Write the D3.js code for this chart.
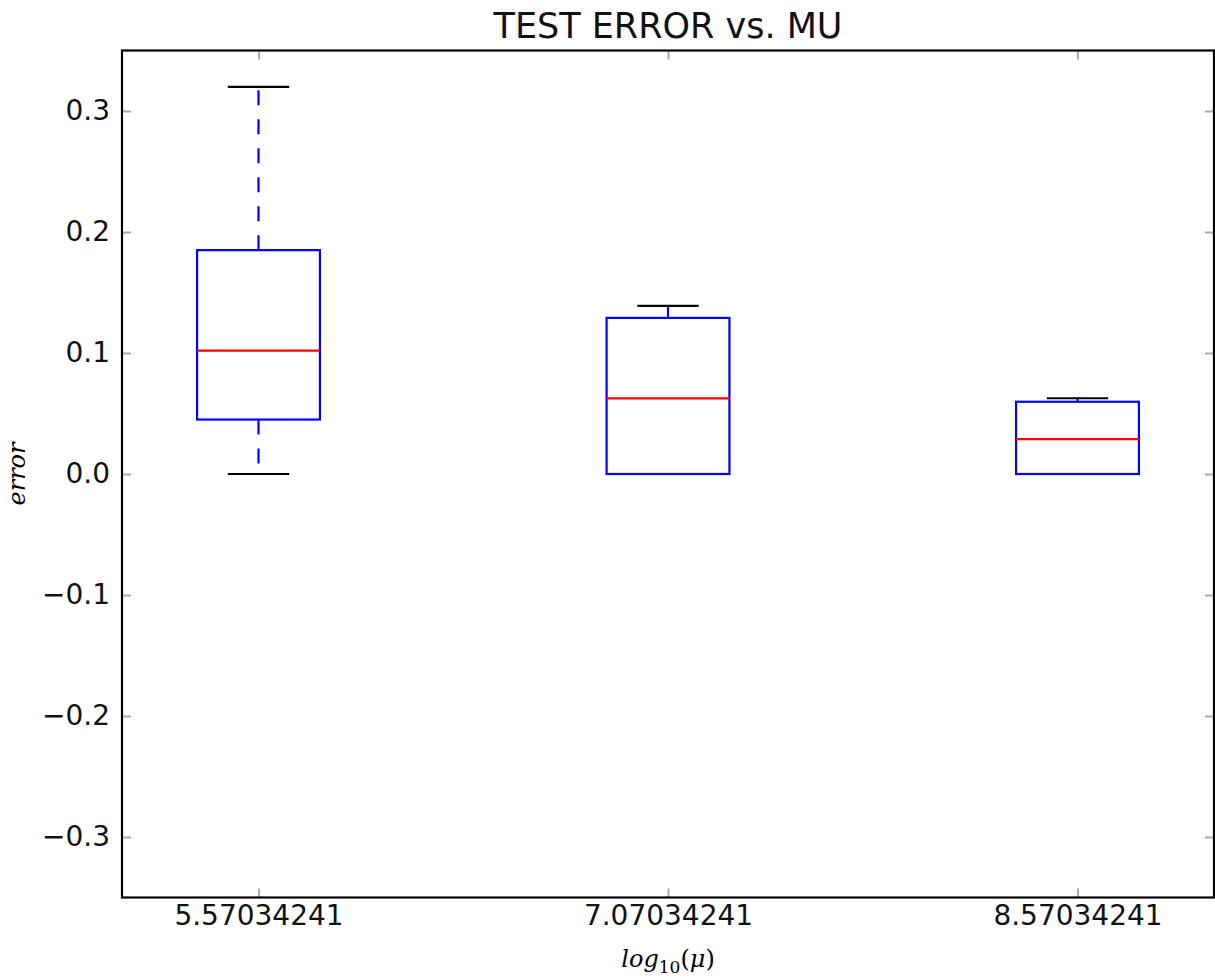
<!DOCTYPE html>
<meta charset="utf-8">
<title>TEST ERROR vs. MU</title>
<style>
  body { margin: 0; background: #fff; }
  svg { display: block; }
</style>
<div id="viz"></div>
<script src="https://cdnjs.cloudflare.com/ajax/libs/d3/7.8.5/d3.min.js"></script>
<script>

// data
var categories = ["5.57034241", "7.07034241", "8.57034241"];
var positions = [1, 2, 3];
var whiskerLow = [0.0, 0.0, 0.0];
var q1 = [0.045, 0.0, 0.0];
var median = [0.102, 0.0625, 0.0288];
var q3 = [0.185, 0.129, 0.0597];
var whiskerHigh = [0.32, 0.139, 0.0626];
var yTicks = [-0.3, -0.2, -0.1, 0.0, 0.1, 0.2, 0.3];

var width = 1215;
var height = 979;
// note: "top" is taken by window.top, so use plot* names
var plotLeft = 122, plotRight = 1214, plotTop = 50.5, plotBottom = 897.5;

var boxes = positions.map(function(p, i) {
  return { pos: p, lo: whiskerLow[i], q1: q1[i], med: median[i], q3: q3[i], hi: whiskerHigh[i] };
});

var svg = d3.select("#viz")
  .append("svg")
  .attr("width", width)
  .attr("height", height);

var x = d3.scaleLinear().domain([2 / 3, 10 / 3]).range([plotLeft, plotRight]);
var y = d3.scaleLinear().domain([-0.35, 0.35]).range([plotBottom, plotTop]);

var fmt = function(d) { return d3.format(".1f")(d).replace("-", "\u2212"); };
var tickColor = "#aaa";

// axes (ticks point inwards, on all four sides)
var yAxisL = svg.append("g")
  .attr("transform", "translate(" + plotLeft + ",0)")
  .call(d3.axisLeft(y).tickValues(yTicks).tickFormat(fmt).tickSizeInner(-9).tickSizeOuter(0).tickPadding(12));
var yAxisR = svg.append("g")
  .attr("transform", "translate(" + plotRight + ",0)")
  .call(d3.axisRight(y).tickValues(yTicks).tickFormat("").tickSizeInner(-9).tickSizeOuter(0));
var xAxisB = svg.append("g")
  .attr("transform", "translate(0," + plotBottom + ")")
  .call(d3.axisBottom(x).tickValues(positions).tickFormat(function(d, i) { return categories[i]; })
    .tickSizeInner(-9).tickSizeOuter(0).tickPadding(8));
var xAxisT = svg.append("g")
  .attr("transform", "translate(0," + plotTop + ")")
  .call(d3.axisTop(x).tickValues(positions).tickFormat("").tickSizeInner(-9).tickSizeOuter(0));

[yAxisL, yAxisR, xAxisB, xAxisT].forEach(function(g) {
  g.select(".domain").remove();
  g.selectAll(".tick line").attr("stroke", tickColor).attr("stroke-width", 2);
  g.selectAll(".tick text")
    .attr("fill", "#111")
    .style("font-family", "'DejaVu Sans', sans-serif")
    .style("font-size", "28px");
});

// boxes
var g = svg.append("g");
var bw = 0.3, cw = 0.15;

var box = g.selectAll(".box").data(boxes).enter().append("g").attr("class", "box");

// whiskers (dashed blue)
box.append("line")
  .attr("x1", function(d) { return x(d.pos); })
  .attr("x2", function(d) { return x(d.pos); })
  .attr("y1", function(d) { return y(d.q3); })
  .attr("y2", function(d) { return y(d.hi); })
  .attr("stroke", "#0000ff").attr("stroke-width", 2.2)
  .attr("stroke-dasharray", "15,14");
box.append("line")
  .attr("x1", function(d) { return x(d.pos); })
  .attr("x2", function(d) { return x(d.pos); })
  .attr("y1", function(d) { return y(d.q1); })
  .attr("y2", function(d) { return y(d.lo); })
  .attr("stroke", "#0000ff").attr("stroke-width", 2.2)
  .attr("stroke-dasharray", "15,14");

// caps
box.selectAll(".cap").data(function(d) { return [[d.pos, d.lo], [d.pos, d.hi]]; })
  .enter().append("line")
  .attr("x1", function(d) { return x(d[0] - cw / 2); })
  .attr("x2", function(d) { return x(d[0] + cw / 2); })
  .attr("y1", function(d) { return y(d[1]); })
  .attr("y2", function(d) { return y(d[1]); })
  .attr("stroke", "#000").attr("stroke-width", 2.2);

// box outline
box.append("rect")
  .attr("x", function(d) { return x(d.pos - bw / 2); })
  .attr("width", function(d) { return x(d.pos + bw / 2) - x(d.pos - bw / 2); })
  .attr("y", function(d) { return y(d.q3); })
  .attr("height", function(d) { return y(d.q1) - y(d.q3); })
  .attr("fill", "none").attr("stroke", "#0000ff").attr("stroke-width", 2.2);

// median
box.append("line")
  .attr("x1", function(d) { return x(d.pos - bw / 2); })
  .attr("x2", function(d) { return x(d.pos + bw / 2); })
  .attr("y1", function(d) { return y(d.med); })
  .attr("y2", function(d) { return y(d.med); })
  .attr("stroke", "#ff0000").attr("stroke-width", 2.2);

// frame
svg.append("rect")
  .attr("x", plotLeft).attr("y", plotTop)
  .attr("width", plotRight - plotLeft).attr("height", plotBottom - plotTop)
  .attr("fill", "none").attr("stroke", "#000").attr("stroke-width", 2.2);

// title and labels
svg.append("text")
  .attr("x", (plotLeft + plotRight) / 2).attr("y", 38)
  .attr("text-anchor", "middle")
  .attr("fill", "#111")
  .style("font-family", "'DejaVu Sans', sans-serif")
  .style("font-size", "35px")
  .text("TEST ERROR vs. MU");

svg.append("text")
  .attr("transform", "translate(25," + y(0) + ") rotate(-90)")
  .attr("text-anchor", "middle")
  .style("font-family", "'DejaVu Serif', serif")
  .style("font-style", "italic")
  .style("font-size", "24px")
  .text("error");

var xl = svg.append("text")
  .attr("x", x(2)).attr("y", 967)
  .attr("text-anchor", "middle")
  .style("font-family", "'DejaVu Serif', serif")
  .style("font-style", "italic")
  .style("font-size", "24px");
xl.append("tspan").text("log");
xl.append("tspan").attr("dy", 6).style("font-size", "17px").style("font-style", "normal").text("10");
xl.append("tspan").attr("dy", -6).style("font-style", "normal").text("(");
xl.append("tspan").text("\u03bc");
xl.append("tspan").style("font-style", "normal").text(")");

</script>
